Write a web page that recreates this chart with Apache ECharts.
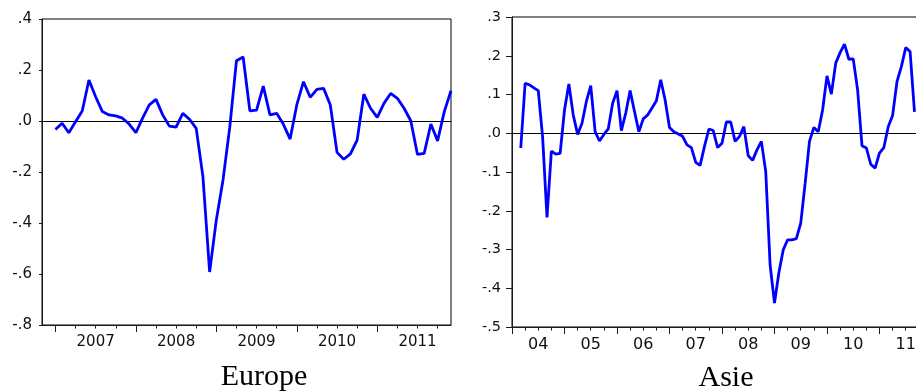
<!DOCTYPE html>
<html>
<head>
<meta charset="utf-8">
<script src="https://cdn.jsdelivr.net/npm/echarts@6/dist/echarts.min.js"></script>
<style>
html,body{margin:0;padding:0;background:#fff;}
#c{width:916px;height:391px;}
</style>
</head>
<body>
<div id="c"></div>
<script>
// ---- Data (monthly) ----
// Europe: Jan 2007 .. Dec 2011 (month index 0..59 from Jan 2007)
var europeValues = [
  -0.033, -0.009, -0.046, -0.003, 0.039, 0.161, 0.095, 0.037, 0.024, 0.020, 0.011, -0.012,
  -0.046, 0.011, 0.063, 0.085, 0.024, -0.020, -0.024, 0.030, 0.007, -0.029, -0.218, -0.592,
  -0.388, -0.231, -0.025, 0.236, 0.251, 0.040, 0.043, 0.137, 0.024, 0.030, -0.013, -0.071,
  0.063, 0.154, 0.093, 0.124, 0.128, 0.063, -0.123, -0.150, -0.129, -0.075, 0.105, 0.050,
  0.014, 0.069, 0.108, 0.089, 0.050, 0.001, -0.131, -0.127, -0.012, -0.078, 0.037, 0.119
];
var europeStartMonth = 0;          // Jan 2007
var europeYears = ['2007', '2008', '2009', '2010', '2011'];

// Asie: Mar 2004 onward (month index from Jan 2004)
var asiaValues = [
  -0.038, 0.129, 0.125, 0.117, 0.110, -0.010, -0.217, -0.046, -0.054, -0.052,
  0.060, 0.127, 0.047, -0.003, 0.026, 0.082, 0.123, 0.004, -0.020, -0.003,
  0.011, 0.077, 0.110, 0.007, 0.052, 0.110, 0.056, 0.004, 0.037, 0.047,
  0.065, 0.084, 0.138, 0.086, 0.015, 0.004, -0.002, -0.008, -0.030, -0.037,
  -0.075, -0.083, -0.034, 0.011, 0.007, -0.037, -0.026, 0.029, 0.029, -0.021,
  -0.008, 0.017, -0.058, -0.070, -0.043, -0.021, -0.099, -0.340, -0.438, -0.360,
  -0.301, -0.275, -0.275, -0.272, -0.232, -0.130, -0.021, 0.015, 0.004, 0.060,
  0.148, 0.101, 0.181, 0.208, 0.230, 0.191, 0.192, 0.112, -0.032, -0.038,
  -0.080, -0.090, -0.051, -0.037, 0.017, 0.046, 0.133, 0.172, 0.221, 0.211,
  0.055
];
var asiaStartMonth = 2;            // Mar 2004
var asiaYears = ['04', '05', '06', '07', '08', '09', '10', '11'];

var europeYTicks = {min: -0.8, max: 0.4, interval: 0.2};
var asiaYTicks = {min: -0.5, max: 0.3, interval: 0.1};

// ---- Helpers ----
function toPairs(vals, start) {
  return vals.map(function (v, i) { return [start + i, v]; });
}
function yearTicks(nYears) { var a = []; for (var k = 0; k < nYears; k++) a.push(12 * k); return a; }
function quarterTicks(nYears) { var a = []; for (var k = 0; k < nYears; k++) { a.push(12 * k + 3, 12 * k + 6, 12 * k + 9); } return a; }
function midYears(nYears) { var a = []; for (var k = 0; k < nYears; k++) a.push(12 * k + 6); return a; }
function yFmt(v) {
  var s = (Math.round(v * 10) / 10).toFixed(1);
  if (s === '-0.0') s = '0.0';
  return s.replace('0.', '.');
}

var AX = '#1a1a1a';
var LABEL_FONT = 'DejaVu Sans';

function buildXAxes(gridIndex, min, max, years, lblSize) {
  var n = years.length;
  return [
    { // main axis: line, year ticks, labels
      type: 'value', gridIndex: gridIndex, position: 'bottom', min: min, max: max,
      axisLine: {show: true, onZero: false, lineStyle: {color: AX, width: 1}},
      axisTick: {show: true, length: 7, customValues: yearTicks(n), lineStyle: {color: AX, width: 1}},
      axisLabel: {
        show: true, customValues: midYears(n), margin: 10, hideOverlap: false,
        fontFamily: LABEL_FONT, fontSize: lblSize, color: '#111',
        formatter: function (v) { return years[Math.round((v - 6) / 12)] || ''; }
      },
      splitLine: {show: false}
    },
    { // quarterly minor ticks
      type: 'value', gridIndex: gridIndex, position: 'bottom', min: min, max: max,
      axisLine: {show: false, onZero: false},
      axisTick: {show: true, length: 3.5, customValues: quarterTicks(n), lineStyle: {color: AX, width: 1}},
      axisLabel: {show: false}, splitLine: {show: false}
    },
    { // zero line
      type: 'value', gridIndex: gridIndex, position: 'bottom', min: min, max: max,
      axisLine: {show: true, onZero: true, lineStyle: {color: '#000', width: 1}},
      axisTick: {show: false}, axisLabel: {show: false}, splitLine: {show: false}
    }
  ];
}

function buildYAxis(gridIndex, t, tickLen, margin, lblSize) {
  return {
    type: 'value', gridIndex: gridIndex, position: 'left',
    min: t.min, max: t.max, interval: t.interval,
    axisLine: {show: true, onZero: false, lineStyle: {color: AX, width: 1}},
    axisTick: {show: true, length: tickLen, lineStyle: {color: AX, width: 1}},
    axisLabel: {show: true, margin: margin, fontFamily: LABEL_FONT, fontSize: lblSize, color: '#111', formatter: yFmt},
    splitLine: {show: false}
  };
}

var chart = echarts.init(document.getElementById('c'), null, {renderer: 'canvas'});

var TITLE_FONT = '30px "Liberation Serif", "Times New Roman", serif';

var option = {
  animation: false,
  backgroundColor: '#ffffff',
  grid: [
    {left: 42, top: 19, width: 409, height: 306, show: true, borderColor: '#000', borderWidth: 1,
     backgroundColor: 'transparent', outerBoundsMode: 'none', containLabel: false},
    {left: 512, top: 17, width: 415.6, height: 310, show: true, borderColor: '#000', borderWidth: 1,
     backgroundColor: 'transparent', outerBoundsMode: 'none', containLabel: false}
  ],
  xAxis: [].concat(
    buildXAxes(0, -2, 59, europeYears, 15),
    buildXAxes(1, 0, 95, asiaYears, 16)
  ),
  yAxis: [
    buildYAxis(0, europeYTicks, 3, 10, 15),
    buildYAxis(1, asiaYTicks, 6, 11, 14.5)
  ],
  series: [
    {
      name: 'Europe', type: 'line', xAxisIndex: 0, yAxisIndex: 0,
      data: toPairs(europeValues, europeStartMonth),
      showSymbol: false, symbol: 'none', smooth: false,
      lineStyle: {color: '#0000ff', width: 2.8}, itemStyle: {color: '#0000ff'}, z: 3
    },
    {
      name: 'Asie', type: 'line', xAxisIndex: 3, yAxisIndex: 1,
      data: toPairs(asiaValues, asiaStartMonth),
      showSymbol: false, symbol: 'none', smooth: false,
      lineStyle: {color: '#0000ff', width: 2.8}, itemStyle: {color: '#0000ff'}, z: 3
    }
  ],
  graphic: [
    {type: 'text', x: 264, y: 377, z: 10, style: {text: 'Europe', align: 'center', verticalAlign: 'middle', font: TITLE_FONT, fill: '#000'}},
    {type: 'text', x: 726, y: 378, z: 10, style: {text: 'Asie', align: 'center', verticalAlign: 'middle', font: TITLE_FONT, fill: '#000'}}
  ]
};
chart.setOption(option);
</script>
</body>
</html>
